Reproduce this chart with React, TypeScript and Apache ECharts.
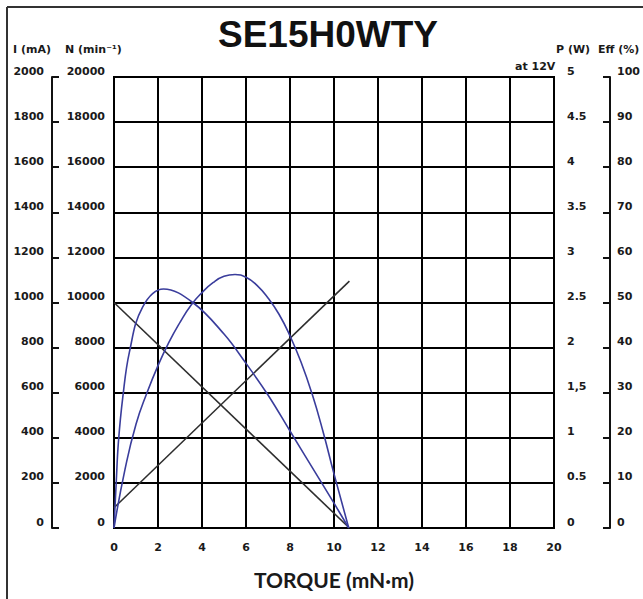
import React, { useEffect, useRef } from 'react';
import * as echarts from 'echarts';

// ---- data ----
const chartTitle = 'SE15H0WTY';
const xAxisName = 'TORQUE (mN·m)';

// speed N (min-1) vs torque
const speedData: [number, number][] = [
  [0, 10000],
  [10.7, 0],
];
// current I (mA) vs torque
const currentData: [number, number][] = [
  [0, 90],
  [10.7, 1095],
];
// output power P (W) vs torque
const powerData: [number, number][] = [
  [0, 0],
  [0.5, 0.65],
  [1.0, 1.15],
  [1.5, 1.5],
  [2.0, 1.8],
  [2.5, 2.06],
  [3.0, 2.28],
  [3.5, 2.47],
  [4.0, 2.61],
  [4.5, 2.72],
  [5.0, 2.79],
  [5.5, 2.81],
  [6.0, 2.78],
  [6.5, 2.69],
  [7.0, 2.55],
  [7.5, 2.37],
  [8.0, 2.13],
  [8.5, 1.84],
  [9.0, 1.49],
  [9.5, 1.07],
  [10.0, 0.6],
  [10.67, 0],
];
// efficiency Eff (%) vs torque
const effData: [number, number][] = [
  [0, 0],
  [0.1, 10],
  [0.2, 19],
  [0.4, 29],
  [0.7, 39],
  [1.3, 49],
  [2.25, 53],
  [3.58, 50],
  [5.0, 43],
  [6.0, 36.5],
  [7.0, 29.5],
  [8.0, 21.5],
  [9.0, 13.5],
  [10.0, 5.5],
  [10.67, 0],
];

const powerTickLabels = ['0', '0.5', '1', '1,5', '2', '2.5', '3', '3.5', '4', '4.5', '5'];

const labelFont = {
  fontFamily: 'DejaVu Sans',
  fontWeight: 'bold' as const,
  fontSize: 11,
  color: '#1a1a1a',
};

const yLabel = {
  ...labelFont,
  verticalAlign: 'bottom' as const,
  lineHeight: 12,
  formatter: (v: number) => String(v),
};

const headerStyle = {
  fill: '#1a1a1a',
  fontFamily: 'DejaVu Sans',
  fontWeight: 'bold',
  fontSize: 11,
  textVerticalAlign: 'middle',
};

export default function App() {
  const ref = useRef<HTMLDivElement>(null);

  useEffect(() => {
    if (!ref.current) return;
    const chart = echarts.init(ref.current, null, { renderer: 'svg' });
    const option: any = {
      animation: false,
      backgroundColor: '#ffffff',
      grid: {
        left: 114,
        right: 89,
        top: 77,
        bottom: 71,
        show: true,
        borderColor: '#000',
        borderWidth: 2,
        backgroundColor: 'transparent',
      },
      xAxis: {
        type: 'value',
        min: 0,
        max: 20,
        interval: 2,
        name: xAxisName,
        nameLocation: 'middle',
        nameGap: 41,
        nameTextStyle: {
          fontFamily: 'Lato',
          fontWeight: 'bold',
          fontSize: 21,
          color: '#1a1a1a',
        },
        axisLine: { show: false },
        axisTick: { show: false },
        axisLabel: { ...labelFont, margin: 14 },
        splitLine: { show: true, lineStyle: { color: '#000', width: 2 } },
      },
      yAxis: [
        {
          type: 'value',
          position: 'left',
          min: 0,
          max: 20000,
          interval: 2000,
          axisLine: { show: false },
          axisTick: { show: false },
          axisLabel: { ...yLabel, margin: 9 },
          splitLine: { show: true, lineStyle: { color: '#000', width: 2 } },
        },
        {
          type: 'value',
          position: 'left',
          offset: 62,
          min: 0,
          max: 2000,
          interval: 200,
          axisLine: { show: true, lineStyle: { color: '#111', width: 2 } },
          axisTick: { show: true, inside: true, length: 7, lineStyle: { color: '#111', width: 2 } },
          axisLabel: { ...yLabel, margin: 8 },
          splitLine: { show: false },
        },
        {
          type: 'value',
          position: 'right',
          min: 0,
          max: 5,
          interval: 0.5,
          axisLine: { show: false },
          axisTick: { show: false },
          axisLabel: {
            ...yLabel,
            margin: 13,
            formatter: (v: number) => powerTickLabels[Math.round(v / 0.5)] ?? String(v),
          },
          splitLine: { show: false },
        },
        {
          type: 'value',
          position: 'right',
          offset: 56,
          min: 0,
          max: 100,
          interval: 10,
          axisLine: { show: true, lineStyle: { color: '#111', width: 2 } },
          axisTick: { show: true, inside: true, length: 7, lineStyle: { color: '#111', width: 2 } },
          axisLabel: { ...yLabel, margin: 7 },
          splitLine: { show: false },
        },
      ],
      series: [
        {
          name: 'N',
          type: 'line',
          yAxisIndex: 0,
          data: speedData,
          showSymbol: false,
          symbol: 'none',
          lineStyle: { color: '#2e2e2e', width: 1.6 },
        },
        {
          name: 'I',
          type: 'line',
          yAxisIndex: 1,
          data: currentData,
          showSymbol: false,
          symbol: 'none',
          lineStyle: { color: '#2e2e2e', width: 1.6 },
        },
        {
          name: 'P',
          type: 'line',
          yAxisIndex: 2,
          data: powerData,
          smooth: 0.5,
          showSymbol: false,
          symbol: 'none',
          lineStyle: { color: '#3a3d9c', width: 1.6 },
        },
        {
          name: 'Eff',
          type: 'line',
          yAxisIndex: 3,
          data: effData,
          smooth: 0.4,
          showSymbol: false,
          symbol: 'none',
          lineStyle: { color: '#3a3d9c', width: 1.6 },
        },
      ],
      graphic: [
        {
          type: 'line',
          shape: { x1: 7, y1: 7, x2: 643, y2: 7 },
          style: { stroke: '#333', lineWidth: 2 },
        },
        {
          type: 'line',
          shape: { x1: 7, y1: 7, x2: 7, y2: 599 },
          style: { stroke: '#333', lineWidth: 2 },
        },
        {
          type: 'text',
          x: 328,
          y: 34,
          style: {
            text: chartTitle,
            fill: '#111',
            fontFamily: 'Liberation Sans',
            fontWeight: 'bold',
            fontSize: 37,
            textAlign: 'center',
            textVerticalAlign: 'middle',
          },
        },
        { type: 'text', x: 13, y: 49, style: { ...headerStyle, text: 'I (mA)' } },
        { type: 'text', x: 65, y: 49, style: { ...headerStyle, text: 'N (min⁻¹)' } },
        { type: 'text', x: 556, y: 49, style: { ...headerStyle, text: 'P (W)' } },
        { type: 'text', x: 598, y: 49, style: { ...headerStyle, text: 'Eff (%)' } },
        { type: 'text', x: 515, y: 66, style: { ...headerStyle, text: 'at 12V' } },
      ],
    };
    chart.setOption(option);
    return () => chart.dispose();
  }, []);

  return (
    <div
      ref={ref}
      style={{ position: 'absolute', left: 0, top: 0, width: 643, height: 599, background: '#fff' }}
    />
  );
}
